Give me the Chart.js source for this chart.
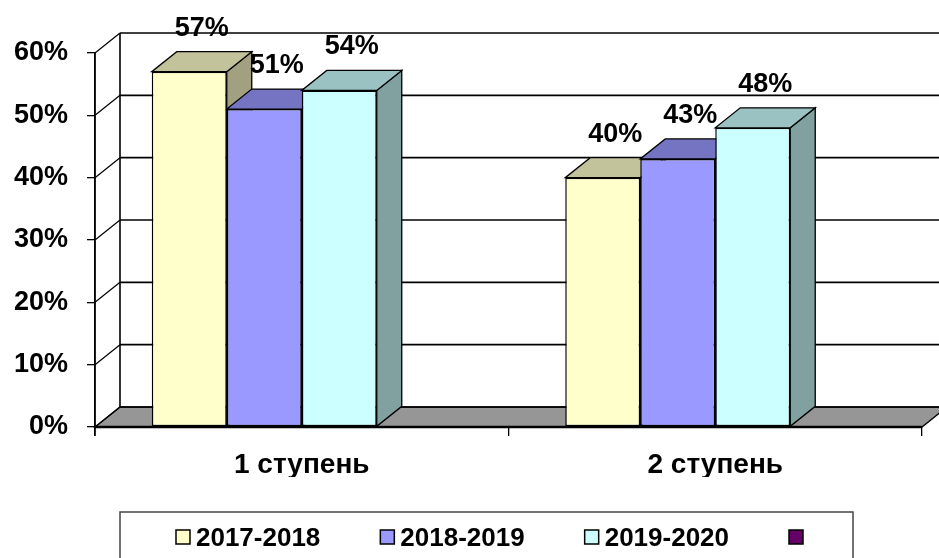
<!DOCTYPE html>
<html lang="ru">
<head>
<meta charset="utf-8">
<title>Ступени</title>
<script src="https://cdn.jsdelivr.net/npm/chart.js@4.4.0/dist/chart.umd.min.js"></script>
<style>
    html, body { margin: 0; padding: 0; background: #fff; }
    #wrap { width: 939px; height: 558px; }
</style>
</head>
<body>
<div id="wrap"><canvas id="chart"></canvas></div>
<script>

// data
const categories = ['1 ступень', '2 ступень'];
const seriesNames = ['2017-2018', '2018-2019', '2019-2020', ''];
const values2017 = [57, 40];
const values2018 = [51, 43];
const values2019 = [54, 48];
const valuesEmpty = [null, null];
const yTicks = [0, 10, 20, 30, 40, 50, 60];

const seriesColors = ['#FFFFCC', '#9999FF', '#CCFFFF', '#660066'];
const DX = 25, DY = -20;   // depth of the fake 3d
const FONT = '"Liberation Sans", Arial, sans-serif';

function shade (hex, k) {
    const n = parseInt(hex.slice(1), 16);
    const r = Math.round(((n >> 16) & 255) * k);
    const g = Math.round(((n >> 8) & 255) * k);
    const b = Math.round((n & 255) * k);
    return `rgb(${r},${g},${b})`;
}

function poly (ctx, pts, fill, stroke, lw) {
    ctx.beginPath();
    ctx.moveTo(pts[0][0], pts[0][1]);
    for (let i = 1; i < pts.length; i++) ctx.lineTo(pts[i][0], pts[i][1]);
    ctx.closePath();
    if (fill) { ctx.fillStyle = fill; ctx.fill(); }
    if (stroke) { ctx.strokeStyle = stroke; ctx.lineWidth = lw || 1.3; ctx.stroke(); }
}

function line (ctx, x1, y1, x2, y2, lw) {
    ctx.beginPath();
    ctx.moveTo(x1, y1);
    ctx.lineTo(x2, y2);
    ctx.lineWidth = lw || 1.3;
    ctx.strokeStyle = '#000';
    ctx.stroke();
}

const box3d = {
    id: 'box3d',
    beforeDatasetsDraw (chart) {
        const ctx = chart.ctx;
        const a = chart.chartArea;
        const y = chart.scales.y;
        const p0 = y.getPixelForValue(0);
        ctx.save();

        // floor
        poly(ctx, [[a.left, p0], [a.right, p0], [a.right + DX, p0 + DY], [a.left + DX, p0 + DY]], '#969696', '#000', 1.3);

        // back wall + side wall lines
        yTicks.forEach(v => {
            const py = y.getPixelForValue(v);
            line(ctx, a.left + DX, py + DY, a.right + DX, py + DY, 1.6);
            line(ctx, a.left, py, a.left + DX, py + DY, 1.3);
        });
        line(ctx, a.left + DX, y.getPixelForValue(yTicks[yTicks.length - 1]) + DY, a.left + DX, p0 + DY, 1.6);
        line(ctx, a.left, p0, a.right, p0, 2.4);
        line(ctx, a.left, y.getPixelForValue(yTicks[yTicks.length - 1]), a.left, p0 + 9, 1.5);

        // side and top faces, left to right
        const bars = [];
        chart.data.datasets.forEach((ds, i) => {
            chart.getDatasetMeta(i).data.forEach((el, j) => {
                if (ds.data[j] == null) return;
                bars.push({ el, color: ds.backgroundColor });
            });
        });
        bars.sort((p, q) => p.el.x - q.el.x);
        bars.forEach(({ el, color }) => {
            const l = el.x - el.width / 2, r = el.x + el.width / 2;
            const t = el.y, b = el.base;
            poly(ctx, [[r, t], [r + DX, t + DY], [r + DX, b + DY], [r, b]], shade(color, 0.63), '#000', 1.3);
            poly(ctx, [[l, t], [r, t], [r + DX, t + DY], [l + DX, t + DY]], shade(color, 0.76), '#000', 1.3);
        });
        ctx.restore();
    },
    afterDatasetsDraw (chart) {
        const ctx = chart.ctx;
        ctx.save();
        ctx.font = `bold 27px ${FONT}`;
        ctx.fillStyle = '#000';
        ctx.textAlign = 'center';
        ctx.textBaseline = 'alphabetic';
        chart.data.datasets.forEach((ds, i) => {
            chart.getDatasetMeta(i).data.forEach((el, j) => {
                if (ds.data[j] == null) return;
                ctx.fillText(ds.data[j] + '%', el.x + DX / 2, el.y + DY - 16);
            });
        });
        ctx.restore();
    },
    afterDraw (chart) {
        // legend in a box under the chart
        const ctx = chart.ctx;
        const top = 512, boxL = 120, boxR = 853;
        const sq = 14, gap = 6, pad = 60;
        ctx.save();
        ctx.font = `bold 26px ${FONT}`;
        const widths = chart.data.datasets.map(ds => ds.label ? sq + gap + ctx.measureText(ds.label).width : sq);
        const total = widths.reduce((s, w) => s + w, 0) + pad * (widths.length - 1);
        let x = (boxL + boxR) / 2 - total / 2 + 3;
        ctx.strokeStyle = '#444';
        ctx.lineWidth = 1.5;
        ctx.strokeRect(boxL, top, boxR - boxL, 80);
        chart.data.datasets.forEach((ds, i) => {
            ctx.fillStyle = ds.backgroundColor;
            ctx.fillRect(x, top + 18, sq, sq);
            ctx.strokeStyle = '#000';
            ctx.lineWidth = 1.5;
            ctx.strokeRect(x, top + 18, sq, sq);
            if (ds.label) {
                ctx.fillStyle = '#000';
                ctx.textAlign = 'left';
                ctx.textBaseline = 'alphabetic';
                ctx.fillText(ds.label, x + sq + gap, top + 34);
            }
            x += widths[i] + pad;
        });
        ctx.restore();
    }
};

const seriesValues = [values2017, values2018, values2019, valuesEmpty];

new Chart(document.getElementById('chart'), {
    type: 'bar',
    data: {
        labels: categories,
        datasets: seriesNames.map((name, i) => ({
            label: name,
            data: seriesValues[i],
            backgroundColor: seriesColors[i],
            borderColor: '#000',
            borderWidth: 1.5,
            borderSkipped: false,
            categoryPercentage: 0.7255,
            barPercentage: 1
        }))
    },
    options: {
        responsive: true,
        maintainAspectRatio: false,
        animation: false,
        layout: { padding: { top: 53, right: 17, left: 0, bottom: 81 } },
        plugins: {
            legend: { display: false },
            tooltip: { enabled: false }
        },
        scales: {
            x: {
                grid: { drawOnChartArea: false, tickLength: 9, color: '#000', lineWidth: 1.3, offset: true },
                border: { display: true, color: '#000', width: 2 },
                ticks: { color: '#000', font: { family: FONT, size: 28, weight: 'bold' }, padding: 12 },
                afterFit: s => { s.height = 50; }
            },
            y: {
                min: 0,
                max: 60,
                afterBuildTicks: s => { s.ticks = yTicks.map(v => ({ value: v })); },
                grid: { drawOnChartArea: false, tickLength: 8, color: '#000', lineWidth: 1.3 },
                border: { display: true, color: '#000', width: 1.5 },
                ticks: {
                    color: '#000',
                    font: { family: FONT, size: 27, weight: 'bold' },
                    padding: 19,
                    callback: v => v + '%'
                },
                afterFit: s => { s.width = 95; }
            }
        }
    },
    plugins: [box3d]
});

</script>
</body>
</html>
